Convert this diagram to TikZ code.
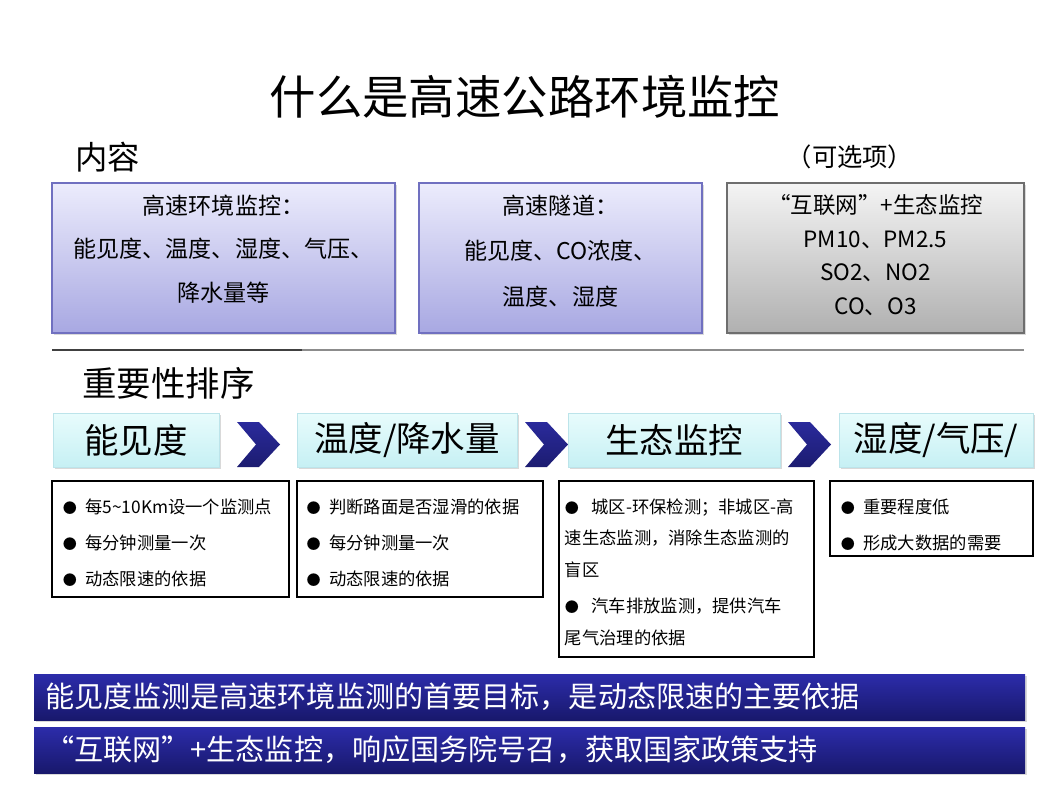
\documentclass[tikz,border=0pt]{standalone}
\usepackage{fontspec}
\setmainfont{Noto Sans CJK SC}
\usetikzlibrary{positioning}
\usetikzlibrary{shadows}

\definecolor{lavtop}{RGB}{236,236,252}
\definecolor{lavbot}{RGB}{168,168,226}
\definecolor{lavedge}{RGB}{112,112,192}
\definecolor{greytop}{RGB}{244,244,244}
\definecolor{greybot}{RGB}{176,176,176}
\definecolor{greyedge}{RGB}{110,110,110}
\definecolor{steptop}{RGB}{232,252,252}
\definecolor{stepbot}{RGB}{198,240,244}
\definecolor{stepedge}{RGB}{188,228,234}
\definecolor{chevblue}{RGB}{42,42,156}
\definecolor{chevdark}{RGB}{28,28,112}
\definecolor{bantop}{RGB}{44,44,170}
\definecolor{banbot}{RGB}{24,24,108}

\newcommand{\dotitem}{{\fontsize{10}{10}\selectfont ●}\hspace{6pt}}

\tikzset{
  softshadow/.style={drop shadow={opacity=0.3, shadow xshift=1.2pt, shadow yshift=-1.5pt}},
  contentbox/.style={draw=lavedge, line width=0.8pt, top color=lavtop, bottom color=lavbot,
    minimum width=#1*0.025cm, minimum height=150*0.025cm, softshadow},
  optbox/.style={draw=greyedge, line width=0.8pt, top color=greytop, bottom color=greybot,
    minimum width=#1*0.025cm, minimum height=150*0.025cm, softshadow},
  stepbox/.style={draw=stepedge, line width=0.6pt, top color=steptop, bottom color=stepbot,
    minimum width=#1*0.025cm, minimum height=54*0.025cm, softshadow,
    font=\fontsize{24.5}{30}\selectfont},
  listbox/.style={draw=black, line width=2pt, fill=white, minimum width=#1*0.025cm},
  listtext/.style={inner sep=0pt, align=left, font=\fontsize{12.3}{25.6}\selectfont},
  banner/.style={top color=bantop, bottom color=banbot, minimum width=991*0.025cm,
    minimum height=46*0.025cm, softshadow},
  bannertext/.style={text=white, inner sep=0pt, font=\fontsize{20.7}{26}\selectfont}
}

\begin{document}
\begin{tikzpicture}[x=0.025cm, y=-0.025cm]
\useasboundingbox (0,0) rectangle (1050,788);

% headings
\node[font=\fontsize{33}{40}\selectfont] (title) at (525,97) {什么是高速公路环境监控};
\node[anchor=west, inner sep=0pt, font=\fontsize{23}{28}\selectfont] (content) at (75,157) {内容};
\node[font=\fontsize{18}{22}\selectfont] (optional) at (850,157) {（可选项）};

% content boxes
\node[contentbox=343] (env) at (223.5,258) {};
\node[contentbox=283] (tunnel) at (560.5,258) {};
\node[optbox=297] (eco) at (875.5,258) {};
\node[align=center, font=\fontsize{16.4}{31}\selectfont] (envtext) at (223.5,249)
  {高速环境监控：\\能见度、温度、湿度、气压、\\降水量等};
\node[align=center, font=\fontsize{16.4}{32.5}\selectfont] (tunneltext) at (560.5,251)
  {高速隧道：\\能见度、CO浓度、\\温度、湿度};
\node[align=center, font=\fontsize{16}{24}\selectfont] (ecotext) at (875.5,255)
  {“互联网”+生态监控\\PM10、PM2.5\\SO2、NO2\\CO、O3};

% separator
\draw[line width=1pt, black!75] (52,350) -- (302,350);
\draw[line width=1pt, black!45] (302,350) -- (1024,350);

\node[anchor=west, inner sep=0pt, font=\fontsize{24.5}{30}\selectfont] (rank) at (82,383) {重要性排序};

% ranking steps
\node[stepbox=166] (vis) at (136,440) {能见度};
\node[stepbox=220] (rain) at (407,440) {温度/降水量};
\node[stepbox=212] (ecostep) at (674,440) {生态监控};
\node[stepbox=194] (hum) at (936,440) {湿度/气压/};
\foreach \x in {237,525,788}
  \shade[top color=chevblue, bottom color=chevdark] (\x,422) -- ++(22,0) -- ++(21,22.5)
    -- ++(-21,22.5) -- ++(-22,0) -- ++(19,-22.5) -- cycle;

% detail boxes
\node[listbox=237, minimum height=116*0.025cm] (visbox) at (170.5,539) {};
\node[listbox=246, minimum height=116*0.025cm] (rainbox) at (420,539) {};
\node[listbox=255, minimum height=176*0.025cm] (ecobox) at (686.5,569) {};
\node[listbox=203, minimum height=75*0.025cm] (humbox) at (931.5,518.5) {};

\node[listtext, below right=0.47cm and 0.3cm of visbox.north west] (vislist)
  {\dotitem 每5\textasciitilde 10Km设一个监测点\\\dotitem 每分钟测量一次\\\dotitem 动态限速的依据};
\node[listtext, below right=0.47cm and 0.27cm of rainbox.north west] (rainlist)
  {\dotitem 判断路面是否湿滑的依据\\\dotitem 每分钟测量一次\\\dotitem 动态限速的依据};
\node[listtext, font=\fontsize{12.3}{22.4}\selectfont, below right=0.47cm and 0.175cm of ecobox.north west] (ecolist)
  {\dotitem\hspace{3pt}城区-环保检测；非城区-高\\速生态监测，消除生态监测的\\盲区\\[3.5pt]\dotitem\hspace{3pt}汽车排放监测，提供汽车\\尾气治理的依据};
\node[listtext, below right=0.47cm and 0.3cm of humbox.north west] (humlist)
  {\dotitem 重要程度低\\\dotitem 形成大数据的需要};

% conclusions
\node[banner] (goal) at (529.5,697) {};
\node[banner] (policy) at (529.5,750) {};
\node[bannertext, right=0.275cm of goal.west] (goaltext)
  {能见度监测是高速环境监测的首要目标，是动态限速的主要依据};
\node[bannertext, right=0.275cm of policy.west] (policytext)
  {“互联网”+生态监控，响应国务院号召，获取国家政策支持};
\end{tikzpicture}
\end{document}
